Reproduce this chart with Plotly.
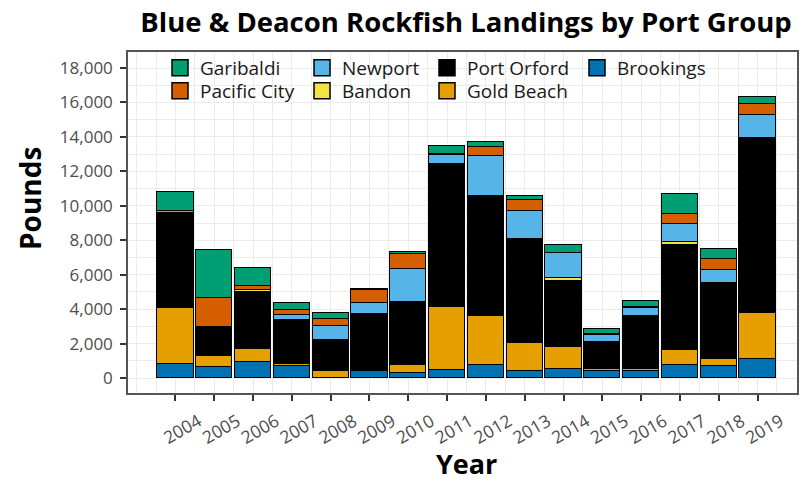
import plotly.graph_objects as go

years = list(range(2004, 2020))
year_labels = [str(y) for y in years]

# Pounds landed, by port group
brookings    = [810, 640, 950, 680,   0, 380, 270, 440, 770, 420, 520, 400, 380, 780, 680, 1080]
gold_beach   = [3240, 640, 730, 130, 400, 100, 480, 3680, 2850, 1630, 1280, 100, 170, 870, 420, 2680]
port_orford  = [5550, 1700, 3300, 2580, 1820, 3260, 3650, 8280, 6970, 6040, 3830, 1570, 3050, 6100, 4400, 10160]
bandon       = [0, 0, 110, 0, 0, 0, 0, 0, 0, 0, 200, 0, 0, 170, 0, 0]
newport      = [120, 0, 0, 260, 800, 600, 1910, 550, 2320, 1610, 1450, 400, 460, 1020, 790, 1350]
pacific_city = [0, 1680, 250, 310, 420, 750, 900, 60, 530, 650, 0, 60, 80, 610, 640, 640]
garibaldi    = [1080, 2750, 1030, 370, 330, 80, 100, 480, 280, 240, 440, 300, 350, 1130, 560, 390]

y_ticks = list(range(0, 18001, 2000))

series = [
    ("Brookings", brookings, "#0072B2"),
    ("Gold Beach", gold_beach, "#E69F00"),
    ("Port Orford", port_orford, "#000000"),
    ("Bandon", bandon, "#F0E442"),
    ("Newport", newport, "#56B4E9"),
    ("Pacific City", pacific_city, "#D55E00"),
    ("Garibaldi", garibaldi, "#009E73"),
]

fig = go.Figure()
for name, vals, col in series:
    fig.add_trace(go.Bar(
        x=years, y=vals, name=name, width=0.93,
        marker=dict(color=col, line=dict(color="#000000", width=1)),
        showlegend=False,
    ))

L, R, T, B = 128, 797, 52, 393
W, H = 807, 482
pw, ph = R - L, B - T

def px_x(p):
    return (p - L) / pw

def px_y(p):
    return (B - p) / ph

# legend layout as in the ggplot legend (2 rows, filled column-wise)
legend_slots = [
    ("Garibaldi", 0, 0), ("Pacific City", 0, 1),
    ("Newport", 1, 0), ("Bandon", 1, 1),
    ("Port Orford", 2, 0), ("Gold Beach", 2, 1),
    ("Brookings", 3, 0),
]
col_px = [160, 302, 427, 577]
row_px = [49, 72]
colors = {n: c for n, _, c in series}

leg_layout = {}
for i, (n, c, r) in enumerate(legend_slots):
    key = "legend" if i == 0 else f"legend{i + 1}"
    fig.add_trace(go.Scatter(
        x=[None], y=[None], mode="markers", name=n, legend=key,
        marker=dict(symbol="square", size=16, color=colors[n],
                    line=dict(color="#000000", width=1.5)),
        showlegend=True, hoverinfo="skip",
    ))
    leg_layout[key] = dict(
        x=px_x(col_px[c]), y=px_y(row_px[r]),
        xanchor="left", yanchor="top",
        bgcolor="rgba(0,0,0,0)", borderwidth=0,
        font=dict(family="Open Sans", size=19, color="#1a1a1a"),
    )
fig.update_layout(**leg_layout)

fig.update_layout(
    barmode="stack",
    width=W, height=H,
    margin=dict(l=L, r=W - R, t=T, b=H - B, pad=0, autoexpand=False),
    paper_bgcolor="white", plot_bgcolor="white",
    font=dict(family="Open Sans", color="#4d4d4d"),
    title=dict(text="<b>Blue & Deacon Rockfish Landings by Port Group</b>",
               x=466 / W, xanchor="center", y=1 - 22 / H, yanchor="middle",
               font=dict(family="Open Sans", size=27.5, color="#000000")),
    bargap=0,
    annotations=[
        dict(text="<b>Pounds</b>", xref="paper", yref="paper",
             x=px_x(30), y=px_y(199), xanchor="center", yanchor="middle",
             textangle=-90, showarrow=False,
             font=dict(family="Open Sans", size=28, color="#000000")),
        dict(text="<b>Year</b>", xref="paper", yref="paper",
             x=px_x(466), y=px_y(463), xanchor="center", yanchor="middle",
             showarrow=False,
             font=dict(family="Open Sans", size=27, color="#000000")),
    ],
)

fig.update_xaxes(
    range=[2002.776, 2020.018], automargin=False,
    tickmode="array", tickvals=years, ticktext=year_labels,
    tickangle=-30, ticks="outside", ticklen=6, tickcolor="#333333", tickwidth=1.5,
    tickfont=dict(family="Open Sans", size=17.5, color="#4d4d4d"),
    ticklabelshift=23, ticklabelstandoff=4,
    showgrid=True, gridcolor="#ebebeb", gridwidth=1.2,
    minor=dict(dtick=0.5, tick0=2003.5, showgrid=True, gridcolor="#ebebeb", gridwidth=0.8),
    showline=True, linecolor="#555555", linewidth=1.5, mirror=True,
    zeroline=False,
)
fig.update_yaxes(
    range=[-871, 18930], automargin=False,
    tickmode="array", tickvals=y_ticks, tickformat=",d",
    ticks="outside", ticklen=6, tickcolor="#333333", tickwidth=1.5,
    tickfont=dict(family="Open Sans", size=17, color="#4d4d4d"),
    ticklabelstandoff=4,
    showgrid=True, gridcolor="#ebebeb", gridwidth=1.2,
    minor=dict(dtick=1000, tick0=0, showgrid=True, gridcolor="#ebebeb", gridwidth=0.8),
    showline=True, linecolor="#555555", linewidth=1.5, mirror=True,
    zeroline=False,
)

fig.write_html("out.html", config={"displayModeBar": False},
               post_script="document.body.style.margin='0';")
